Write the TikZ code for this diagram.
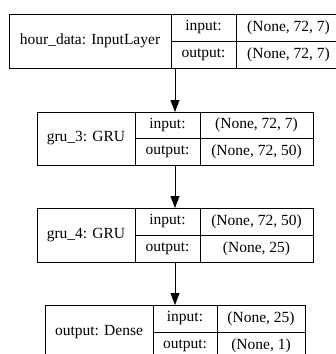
\documentclass[tikz,border=0pt]{standalone}
\usepackage{fontspec}
\setmainfont{Liberation Serif}
\usetikzlibrary{arrows, arrows.meta}
\usetikzlibrary{calc}

\newcommand{\lblfont}{\fontsize{15.5}{18}\selectfont}

\begin{document}
\begin{tikzpicture}[x=1pt, y=-1pt, line width=0.8pt,
    cell/.style={draw, rectangle, inner sep=0pt, outer sep=0pt, font=\lblfont},
    record/.style={rectangle, inner sep=0pt, outer sep=0pt, minimum height=54pt},
    flow/.style={-{Triangle[length=12pt, width=9pt]}}]
    \useasboundingbox (0,0) rectangle (336,354);
    \clip (0,0) rectangle (336,354);

    % hour_data
    \node[record, minimum width=332pt] (hour) at (175,41) {};
    \node[cell, minimum width=162pt, minimum height=54pt] (hourname) at (90,41) {hour\_data: InputLayer};
    \node[cell, minimum width=65pt, minimum height=27pt] (hourin) at (203.5,27.5) {input:};
    \node[cell, minimum width=65pt, minimum height=27pt] (hourout) at (203.5,54.5) {output:};
    \node[cell, minimum width=105pt, minimum height=27pt] (hourinval) at (288.5,27.5) {(None, 72, 7)};
    \node[cell, minimum width=105pt, minimum height=27pt] (houroutval) at (288.5,54.5) {(None, 72, 7)};

    % gru_3
    \node[record, minimum width=276pt, minimum height=53pt] (gru3) at (175,138.5) {};
    \node[cell, minimum width=98pt, minimum height=53pt] (gru3name) at (86,138.5) {gru\_3: GRU};
    \node[cell, minimum width=65pt, minimum height=26.5pt] (gru3in) at (167.5,125.25) {input:};
    \node[cell, minimum width=65pt, minimum height=26.5pt] (gru3out) at (167.5,151.75) {output:};
    \node[cell, minimum width=113pt, minimum height=26.5pt] (gru3inval) at (256.5,125.25) {(None, 72, 7)};
    \node[cell, minimum width=113pt, minimum height=26.5pt] (gru3outval) at (256.5,151.75) {(None, 72, 50)};

    % gru_4
    \node[record, minimum width=276pt] (gru4) at (175,235) {};
    \node[cell, minimum width=98pt, minimum height=54pt] (gru4name) at (86,235) {gru\_4: GRU};
    \node[cell, minimum width=65pt, minimum height=27pt] (gru4in) at (167.5,221.5) {input:};
    \node[cell, minimum width=65pt, minimum height=27pt] (gru4out) at (167.5,248.5) {output:};
    \node[cell, minimum width=113pt, minimum height=27pt] (gru4inval) at (256.5,221.5) {(None, 72, 50)};
    \node[cell, minimum width=113pt, minimum height=27pt] (gru4outval) at (256.5,248.5) {(None, 25)};

    % output
    \node[record, minimum width=260pt] (dense) at (175,332) {};
    \node[cell, minimum width=108pt, minimum height=54pt] (densename) at (99,332) {output: Dense};
    \node[cell, minimum width=64pt, minimum height=27pt] (densein) at (185,318.5) {input:};
    \node[cell, minimum width=64pt, minimum height=27pt] (denseout) at (185,345.5) {output:};
    \node[cell, minimum width=88pt, minimum height=27pt] (denseinval) at (261,318.5) {(None, 25)};
    \node[cell, minimum width=88pt, minimum height=27pt] (denseoutval) at (261,345.5) {(None, 1)};

    \draw[flow] (hour.south) -- (gru3.north);
    \draw[flow] (gru3.south) -- (gru4.north);
    \draw[flow] (gru4.south) -- (dense.north);
\end{tikzpicture}
\end{document}
